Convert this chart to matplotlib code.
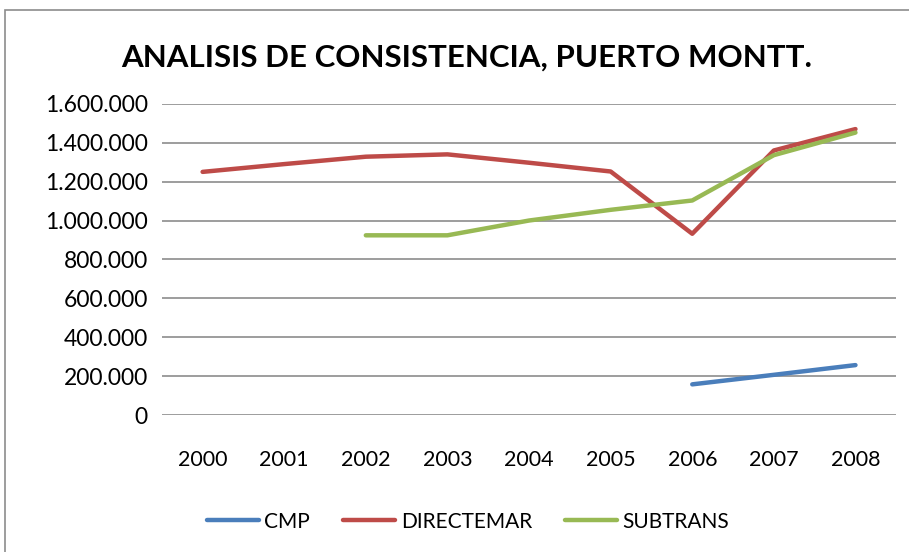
import numpy as np
import matplotlib
matplotlib.use("Agg")
from matplotlib import pyplot as plt
from matplotlib.ticker import FuncFormatter
from matplotlib.patches import Rectangle

years = ["2000", "2001", "2002", "2003", "2004", "2005", "2006", "2007", "2008"]
nan = np.nan
cmp_vals = [nan, nan, nan, nan, nan, nan, 158000, 207000, 257000]
directemar = [1250000, 1290000, 1328000, 1340000, 1297000, 1252000, 932000, 1360000, 1470000]
subtrans = [nan, nan, 924000, 924000, 1000000, 1055000, 1103000, 1336000, 1452000]

plt.rcParams['font.family'] = ['Lato', 'DejaVu Sans']

fig = plt.figure(figsize=(9.09, 5.52), dpi=100)
ax = fig.add_axes([0.178, 0.248, 0.808, 0.564])

x = np.arange(len(years))
ax.plot(x, cmp_vals, color="#4a7ebb", lw=3.2, solid_capstyle="round", label="CMP")
ax.plot(x, directemar, color="#be4b48", lw=3.2, solid_capstyle="round", label="DIRECTEMAR")
ax.plot(x, subtrans, color="#98b954", lw=3.2, solid_capstyle="round", label="SUBTRANS")

ax.set_xlim(-0.5, len(years) - 0.5)
ax.set_ylim(0, 1600000)
ax.set_yticks(np.arange(0, 1600001, 200000))
ax.yaxis.set_major_formatter(FuncFormatter(lambda v, p: f"{v:,.0f}".replace(",", ".")))
ax.set_xticks(x)
ax.set_xticklabels(years)
ax.grid(axis="y", color="#8c8c8c", lw=1.2)
ax.set_axisbelow(True)
for s in ax.spines.values():
    s.set_visible(False)
ax.tick_params(axis="both", length=0, labelsize=15.5, colors="black")
ax.tick_params(axis="y", labelsize=16.5, pad=10)
ax.tick_params(axis="x", pad=25)

fig.text(0.513, 0.895, "ANALISIS DE CONSISTENCIA, PUERTO MONTT.", ha="center", va="center",
         fontsize=22.5, fontweight="bold")

fig.legend(loc="center", bbox_to_anchor=(0.515, 0.055), ncol=3, frameon=False,
           fontsize=15, handlelength=2.5, columnspacing=1.6, handletextpad=0.25)

fig.patches.append(Rectangle((5 / 909, -0.02), 1.1, 1 - 10 / 552 + 0.02, transform=fig.transFigure,
                             fill=False, edgecolor="#8c8c8c", lw=1.2))

fig.savefig("out.png", dpi=100)
